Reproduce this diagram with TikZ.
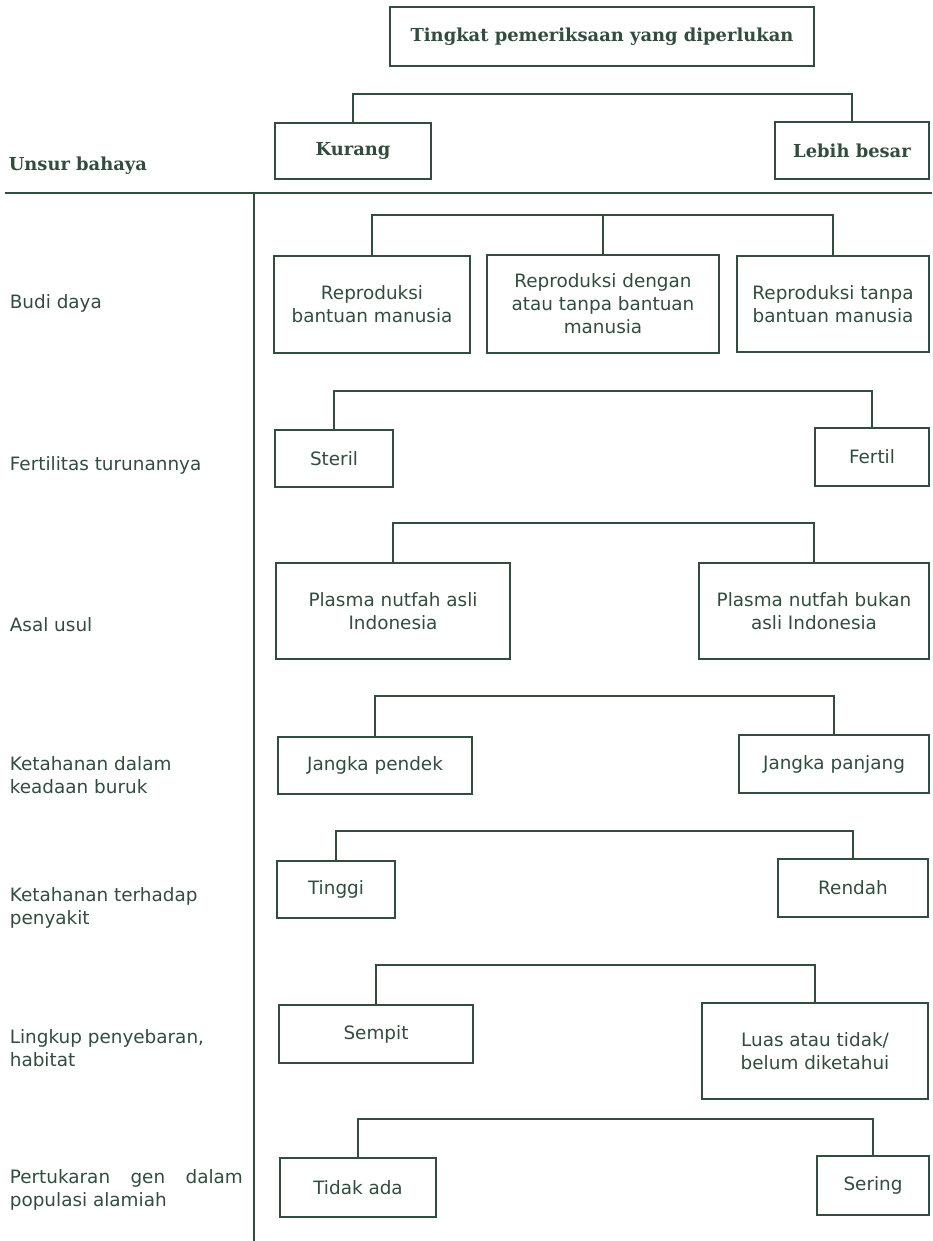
\documentclass[tikz,border=0pt]{standalone}
\usepackage{fontspec}
\setmainfont{DejaVu Sans}
\newfontfamily\tebal{DejaVu Serif}
\usepackage{tikz}
\usetikzlibrary{positioning}
\definecolor{tinta}{RGB}{50,76,62}

\begin{document}
\begin{tikzpicture}[x=1pt,y=-1pt,color=tinta,line width=1.7pt,
    every node/.style={font=\fontsize{18.4pt}{23pt}\selectfont, inner sep=0pt},
    kotak/.style 2 args={draw, minimum width=#1, minimum height=#2, align=center},
    judul/.style={font=\tebal\bfseries\fontsize{17.9pt}{21pt}\selectfont},
    unsur/.style={anchor=west, align=left}]
          \useasboundingbox (0,0) rectangle (932,1241);
          % kepala tabel
          \node[kotak={424pt}{59pt}, judul] (tingkat) at (602,36.5) {Tingkat pemeriksaan yang diperlukan};
          \node[kotak={156pt}{56pt}, judul] (kurang) at (353,151) {Kurang};
          \node[kotak={154pt}{57pt}, judul] (lebih) at (852,150.5) {Lebih besar};
          \node[judul, anchor=west] (unsurbahaya) at (8,166) {Unsur bahaya};
          \coordinate (gariskiri) at (5,193);
          \coordinate (gariskanan) at (932,193);
          \coordinate (tiangatas) at (254,193);
          \coordinate (tiangbawah) at (254,1241);
          % unsur bahaya
          \node[unsur] (budi) at (9,303) {Budi daya};
          \node[unsur] (fertilitas) at (9,465) {Fertilitas turunannya};
          \node[unsur] (asal) at (9,625) {Asal usul};
          \node[unsur] (tahanburuk) at (9,775) {Ketahanan dalam\\keadaan buruk};
          \node[unsur] (tahanpenyakit) at (9,908) {Ketahanan terhadap\\penyakit};
          \node[unsur] (lingkup) at (9,1048) {Lingkup penyebaran,\\habitat};
          \node[unsur] (tukar) at (9,1190) {\makebox[233pt][s]{Pertukaran gen dalam}\\populasi alamiah};
          % kotak pilihan
          \node[kotak={196pt}{97pt}] (rep1) at (372,304.5) {Reproduksi\\bantuan manusia};
          \node[kotak={232pt}{98pt}] (rep2) at (603,304) {Reproduksi dengan\\atau tanpa bantuan\\manusia};
          \node[kotak={192pt}{96pt}] (rep3) at (833,304) {Reproduksi tanpa\\bantuan manusia};
          \node[kotak={118pt}{57pt}] (steril) at (334,458.5) {Steril};
          \node[kotak={114pt}{58pt}] (fertil) at (872,457) {Fertil};
          \node[kotak={234pt}{96pt}] (asli) at (393,611) {Plasma nutfah asli\\Indonesia};
          \node[kotak={230pt}{96pt}] (bukanasli) at (814,611) {Plasma nutfah bukan\\asli Indonesia};
          \node[kotak={194pt}{57pt}] (pendek) at (375,765.5) {Jangka pendek};
          \node[kotak={190pt}{58pt}] (panjang) at (834,764) {Jangka panjang};
          \node[kotak={118pt}{57pt}] (tinggi) at (336,889.5) {Tinggi};
          \node[kotak={150pt}{58pt}] (rendah) at (853,888) {Rendah};
          \node[kotak={194pt}{58pt}] (sempit) at (376,1034) {Sempit};
          \node[kotak={226pt}{96pt}] (luas) at (815,1051) {Luas atau tidak/\\belum diketahui};
          \node[kotak={156pt}{59pt}] (tidakada) at (358,1187.5) {Tidak ada};
          \node[kotak={112pt}{59pt}] (sering) at (873,1185.5) {Sering};
          % garis
          \draw (gariskiri) -- (gariskanan);
          \draw (tiangatas) -- (tiangbawah);
          \draw (kurang.north) -- ++(0,-28) -| (lebih.north);
          \draw (rep1.north) -- ++(0,-40) -| (rep3.north);
          \draw (rep2.north) -- ++(0,-39);
          \draw (steril.north) -- ++(0,-38) -| (fertil.north);
          \draw (asli.north) -- ++(0,-39) -| (bukanasli.north);
          \draw (pendek.north) -- ++(0,-40) -| (panjang.north);
          \draw (tinggi.north) -- ++(0,-29) -| (rendah.north);
          \draw (sempit.north) -- ++(0,-39) -| (luas.north);
          \draw (tidakada.north) -- ++(0,-38) -| (sering.north);
        \end{tikzpicture}
\end{document}
